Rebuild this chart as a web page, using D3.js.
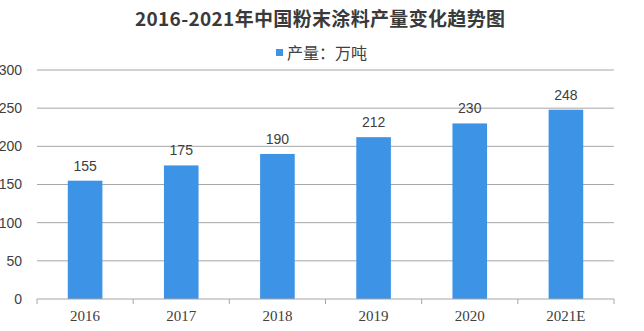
<!DOCTYPE html>
<html>
<head>
<meta charset="utf-8">
<script src="https://cdn.jsdelivr.net/npm/d3@7"></script>
<style>
  body { margin: 0; background: #fff; }
  svg { display: block; }
</style>
</head>
<body>
<svg id="chart" width="644" height="331"></svg>
<script>
// data
var years = ["2016", "2017", "2018", "2019", "2020", "2021E"];
var output = [155, 175, 190, 212, 230, 248];
var yTicks = [0, 50, 100, 150, 200, 250, 300];

var width = 644, height = 331;
var margin = {top: 70, right: 30, bottom: 32, left: 37};

var svg = d3.select("#chart");

var x = d3.scaleBand()
  .domain(years)
  .range([margin.left, width - margin.right])
  .paddingInner(0.64)
  .paddingOuter(0.32);

var y = d3.scaleLinear()
  .domain([0, 300])
  .range([height - margin.bottom, margin.top]);

// title + legend
svg.append("text")
  .attr("x", 320).attr("y", 26)
  .attr("text-anchor", "middle")
  .attr("textLength", 370)
  .style("font-family", "'Noto Sans CJK SC', sans-serif")
  .style("font-size", "19px")
  .style("font-weight", "bold")
  .style("fill", "#3a3a3a")
  .text("2016-2021年中国粉末涂料产量变化趋势图");

svg.append("rect")
  .attr("x", 276).attr("y", 49).attr("width", 7).attr("height", 7)
  .attr("fill", "#3d94e6");
svg.append("text")
  .attr("x", 287).attr("y", 59)
  .style("font-family", "'Noto Sans CJK SC', sans-serif")
  .style("font-size", "16px")
  .style("fill", "#404040")
  .text("产量：万吨");

// gridlines
svg.append("g")
  .selectAll("line")
  .data(yTicks.filter(function(d) { return d > 0; }))
  .enter().append("line")
  .attr("x1", margin.left).attr("x2", width - margin.right)
  .attr("y1", function(d) { return y(d); })
  .attr("y2", function(d) { return y(d); })
  .attr("stroke", "#a6a6a6")
  .attr("stroke-width", 1);

// y axis labels
var yAxis = d3.axisLeft(y).tickValues(yTicks).tickSize(0).tickPadding(15);
var gy = svg.append("g")
  .attr("transform", "translate(" + margin.left + ",0)")
  .call(yAxis);
gy.select(".domain").remove();
gy.selectAll("text")
  .style("font-family", "'Liberation Sans', Arial, sans-serif")
  .style("font-size", "14px")
  .style("fill", "#404040");

// bars
svg.append("g")
  .selectAll("rect")
  .data(output)
  .enter().append("rect")
  .attr("x", function(d, i) { return x(years[i]); })
  .attr("y", function(d) { return y(d); })
  .attr("width", x.bandwidth())
  .attr("height", function(d) { return y(0) - y(d); })
  .attr("fill", "#3d94e6");

// value labels
svg.append("g")
  .selectAll("text")
  .data(output)
  .enter().append("text")
  .attr("x", function(d, i) { return x(years[i]) + x.bandwidth() / 2; })
  .attr("y", function(d) { return y(d) - 10; })
  .attr("text-anchor", "middle")
  .style("font-family", "'Liberation Sans', Arial, sans-serif")
  .style("font-size", "14px")
  .style("fill", "#404040")
  .text(function(d) { return d; });

// x axis, ticks between categories
var xBounds = d3.range(years.length + 1).map(function(i) { return margin.left + i * (width - margin.left - margin.right) / years.length; });
var gx = svg.append("g");
gx.append("line")
  .attr("x1", margin.left).attr("x2", width - margin.right)
  .attr("y1", y(0)).attr("y2", y(0))
  .attr("stroke", "#a6a6a6");
gx.selectAll(".tk")
  .data(xBounds)
  .enter().append("line")
  .attr("class", "tk")
  .attr("x1", function(d) { return d; }).attr("x2", function(d) { return d; })
  .attr("y1", y(0)).attr("y2", y(0) + 5)
  .attr("stroke", "#a6a6a6");
gx.selectAll("text")
  .data(years)
  .enter().append("text")
  .attr("x", function(d) { return x(d) + x.bandwidth() / 2; })
  .attr("y", y(0) + 22)
  .attr("text-anchor", "middle")
  .style("font-family", "'Liberation Serif', serif")
  .style("font-size", "15px")
  .style("fill", "#404040")
  .text(function(d) { return d; });
</script>
</body>
</html>
